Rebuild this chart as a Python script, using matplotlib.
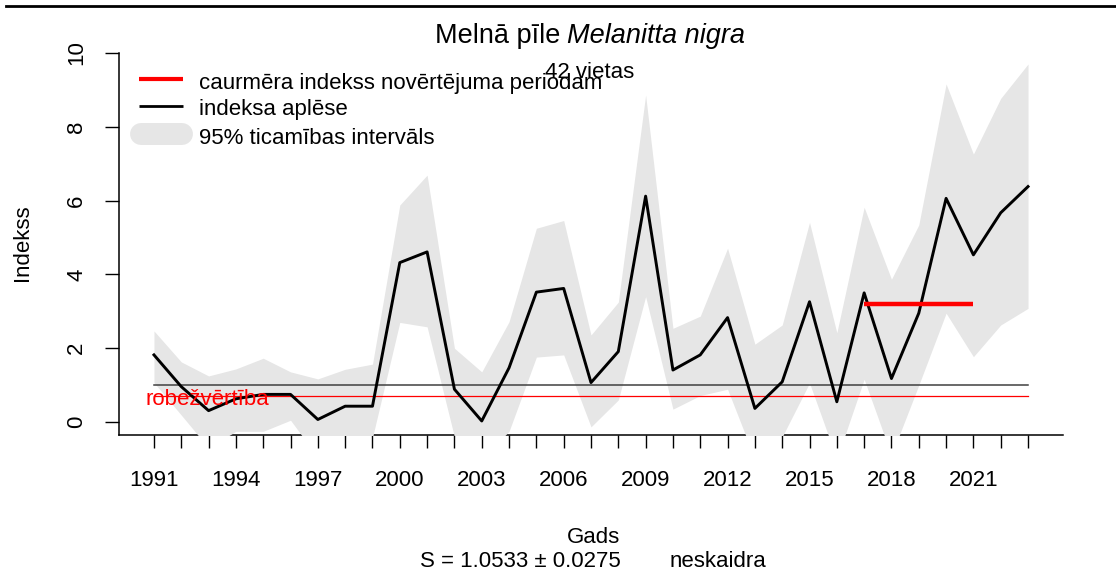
import matplotlib
matplotlib.use("Agg")
import matplotlib.pyplot as plt
from matplotlib.lines import Line2D

plt.rcParams['font.family'] = ['Liberation Sans', 'DejaVu Sans']

# --- data -------------------------------------------------------------
years = list(range(1991, 2024))
index_est = [1.82, 0.96, 0.31, 0.63, 0.75, 0.75, 0.07, 0.43, 0.43, 4.32,
             4.61, 0.89, 0.03, 1.47, 3.52, 3.62, 1.07, 1.91, 6.12, 1.41,
             1.82, 2.83, 0.37, 1.09, 3.26, 0.55, 3.50, 1.18, 2.95, 6.06,
             4.53, 5.67, 6.38]
ci_upper = [2.47, 1.63, 1.25, 1.44, 1.73, 1.36, 1.17, 1.43, 1.57, 5.88,
            6.69, 2.00, 1.36, 2.72, 5.25, 5.46, 2.36, 3.25, 8.86, 2.54,
            2.87, 4.71, 2.11, 2.63, 5.41, 2.42, 5.82, 3.87, 5.34, 9.16,
            7.26, 8.77, 9.70]
ci_lower = [1.07, 0.19, -0.70, -0.25, -0.25, 0.05, -0.95, -0.90, -0.42, 2.70,
            2.58, -0.40, -1.00, -0.25, 1.76, 1.82, -0.13, 0.60, 3.40, 0.35,
            0.72, 0.89, -1.00, -0.40, 1.06, -1.00, 1.16, -0.90, 1.00, 2.95,
            1.77, 2.63, 3.08]
period_years = [2017, 2021]
period_mean = 3.20
ref_level = 1.0
threshold = 0.70
ytick_vals = [0, 2, 4, 6, 8, 10]
label_years = list(range(1991, 2022, 3))

W, H = 1116, 575
def fx(px):
    return px / W
def fy(py):
    return 1 - py / H

fig = plt.figure(figsize=(W / 100, H / 100), dpi=100)
ax = fig.add_axes([fx(119), fy(435), fx(1063) - fx(119), fy(40) - fy(435)])

ax.set_xlim(1989.72, 2024.28)
ax.set_ylim(-0.35, 10.35)

BAND = '#E6E6E6'
ax.fill_between(years, ci_lower, ci_upper, color=BAND, linewidth=0, zorder=3)
ax.plot([years[0], years[-1]], [ref_level, ref_level], color='#404040', lw=1.1, zorder=4)
ax.plot([years[0], years[-1]], [threshold, threshold], color='#FF0000', lw=0.9, zorder=4)
ax.plot(years, index_est, color='black', lw=2.1, zorder=5)
ax.plot(period_years, [period_mean, period_mean], color='#FF0000', lw=3.2,
        solid_capstyle='butt', zorder=6)
ax.text(1992.94, 0.62, 'robežvērtība', color='#FF0000', fontsize=16,
        ha='center', va='center', zorder=7)

# axes styling
for s in ('top', 'right'):
    ax.spines[s].set_visible(False)
ax.spines['left'].set_bounds(-0.35, 10)
for s in ('left', 'bottom'):
    ax.spines[s].set_linewidth(1.1)
    ax.spines[s].set_zorder(2)

ax.set_xticks(years)
ax.set_xticklabels([str(y) if y in label_years else '' for y in years])
ax.set_yticks(ytick_vals)
ax.set_yticklabels([str(v) for v in ytick_vals])
ax.tick_params(axis='x', length=9.5, width=1.0, pad=15.5, labelsize=16)
ax.tick_params(axis='y', length=10, width=1.0, pad=13, labelsize=16,
               labelrotation=90)
for lbl in ax.get_yticklabels():
    lbl.set_va('center')

# titles and axis labels
fig.text(fx(22.5), fy(243), 'Indekss', rotation=90, ha='center', va='center', fontsize=16)
fig.text(fx(593), fy(543), 'Gads', ha='center', va='baseline', fontsize=16)
fig.text(fx(420), fy(567), 'S = 1.0533 ± 0.0275', ha='left', va='baseline', fontsize=16)
fig.text(fx(670), fy(567), 'neskaidra', ha='left', va='baseline', fontsize=16)
fig.text(fx(590), fy(78), '42 vietas', ha='center', va='baseline', fontsize=16)

renderer = fig.canvas.get_renderer()
t1 = fig.text(0, fy(43), 'Melnā pīle ', ha='left', va='baseline', fontsize=19.5)
t2 = fig.text(0, fy(43), 'Melanitta nigra', ha='left', va='baseline', fontsize=19.5,
              style='italic')
w1 = t1.get_window_extent(renderer).width
w2 = t2.get_window_extent(renderer).width
x0 = 590 - (w1 + w2) / 2
t1.set_x(fx(x0))
t2.set_x(fx(x0 + w1))

# legend
leg_rows = [
    ('caurmēra indekss novērtējuma periodam', '#FF0000', 3.0, 79, 'butt'),
    ('indeksa aplēse', 'black', 2.0, 106, 'butt'),
    ('95% ticamības intervāls', BAND, 15.8, 134, 'round'),
]
for text, col, lw, row_y, cap in leg_rows:
    if cap == 'round':
        xs = [fx(141), fx(182)]
    else:
        xs = [fx(139), fx(183)]
    fig.add_artist(Line2D(xs, [fy(row_y), fy(row_y)], color=col, lw=lw,
                          solid_capstyle=cap))
    fig.text(fx(199), fy(row_y + 9.5), text, ha='left', va='baseline', fontsize=16)

# frame line at the top of the image
fig.add_artist(Line2D([fx(6), 1.0], [fy(5.5), fy(5.5)], color='black', lw=2.0))

fig.savefig('out.png', dpi=100)
